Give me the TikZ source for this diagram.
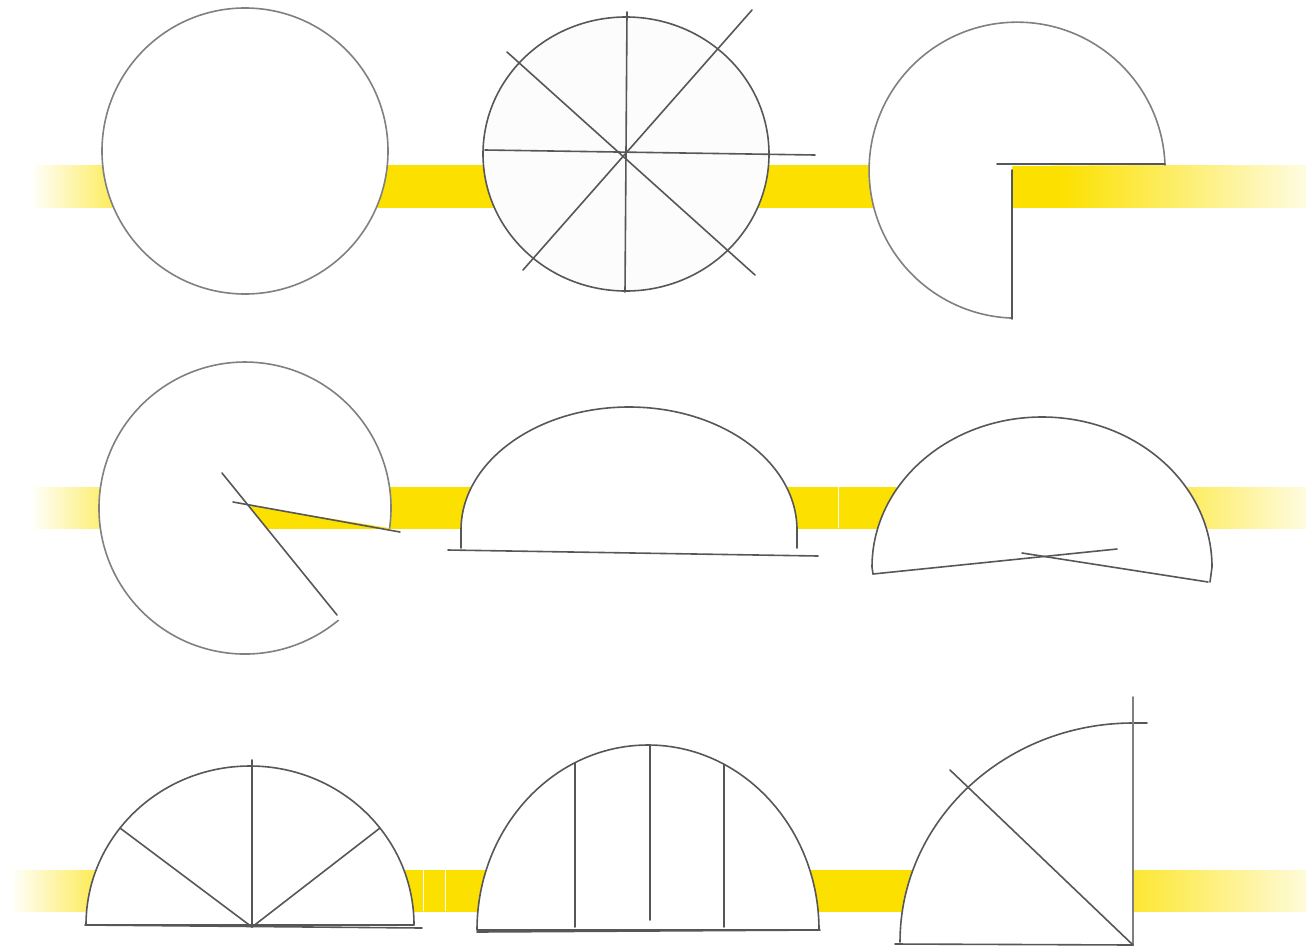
\documentclass[tikz,border=0pt]{standalone}
\definecolor{fy}{RGB}{252,225,0}
\pgfdeclarehorizontalshading{bandA}{100bp}{color(0bp)=(white); color(25bp)=(white); color(30.1bp)=(fy); color(65.4bp)=(fy); color(75bp)=(fy!12); color(100bp)=(fy!12)}
\pgfdeclarehorizontalshading{bandB}{100bp}{color(0bp)=(white); color(25bp)=(white); color(30.1bp)=(fy); color(66.9bp)=(fy); color(75bp)=(fy!12); color(100bp)=(fy!12)}
\pgfdeclarehorizontalshading{bandC}{100bp}{color(0bp)=(white); color(25bp)=(white); color(30.0bp)=(fy); color(66.3bp)=(fy); color(75bp)=(fy!15); color(100bp)=(fy!15)}
\begin{document}
\begin{tikzpicture}[x=1bp,y=-1bp,
  sk/.style={draw=black!66,line width=1.6bp,line cap=round,line join=round},
  skl/.style={sk,draw=black!50},
  gap/.style={draw=white,line width=0.8bp}]
\useasboundingbox (0,0) rectangle (1306,949);
% ---- yellow bands
\shade[shading=bandA] (30,165) rectangle (1306,207);
\shade[shading=bandB] (30,487) rectangle (1306,528);
\shade[shading=bandC] (10,870) rectangle (1306,911);
\draw[gap] (838,487) -- (838,528);
\draw[gap] (423,870) -- (423,911);
\draw[gap] (445,870) -- (445,911);
% ---- row 1
\draw[skl,fill=white] (245,151) circle[radius=143];
\draw[sk,fill=black!1] (626,154) ellipse[x radius=143,y radius=137];
\draw[sk] (627,12) -- (625,292);
\draw[sk] (485,150) -- (815,155);
\draw[sk] (507,52) -- (755,275);
\draw[sk] (752,10) -- (523,270);
\fill[white] (1012,166) -- (1165,165) arc[start angle=-2,end angle=-268,radius=148] -- cycle;
\draw[skl] (1165,165) arc[start angle=-2,end angle=-268,radius=148];
\draw[sk] (997,164) -- (1165,164);
\draw[sk] (1012,170) -- (1012,319);
% ---- row 2
\fill[white] (248,505) -- (389.6,528.1) arc[start angle=7.9,end angle=-309.7,radius=146] -- cycle;
\draw[skl] (389.6,528.1) arc[start angle=7.9,end angle=-309.7,radius=146];
\draw[sk] (233,502) -- (400,532);
\draw[sk] (222,473) -- (337,615);
\fill[white] (797,550) -- (797,530) arc[start angle=0,end angle=-180,x radius=168,y radius=123] -- (461,550) -- cycle;
\draw[sk] (797,548) -- (797,530) arc[start angle=0,end angle=-180,x radius=168,y radius=123] -- (461,548);
\draw[sk] (448,550) -- (818,556);
\fill[white] (1210,582) -- (1212,567) arc[start angle=0,end angle=-180,x radius=170,y radius=150] -- (873,574) -- (1030,556) -- cycle;
\draw[sk] (1210,582) -- (1212,567) arc[start angle=0,end angle=-180,x radius=170,y radius=150] -- (873,574);
\draw[sk] (873,574) -- (1117,549);
\draw[sk] (1022,553) -- (1208,582);
% ---- row 3
\filldraw[sk,fill=white] (414,925) arc[start angle=0,end angle=-180,x radius=164,y radius=159] -- cycle;
\draw[sk] (85,925) -- (422,928);
\draw[sk] (252,927) -- (252,760);
\draw[sk] (252,927) -- (120,828);
\draw[sk] (252,927) -- (380,828);
\filldraw[sk,fill=white] (819,930) arc[start angle=0,end angle=-180,x radius=171,y radius=185] -- cycle;
\draw[sk] (477,932) -- (820,930);
\draw[sk] (575,763) -- (575,927);
\draw[sk] (650,745) -- (650,920);
\draw[sk] (724,765) -- (724,927);
\fill[white] (1133,945) -- (900,942) arc[start angle=180,end angle=270,x radius=233,y radius=219] -- cycle;
\draw[sk] (900,942) arc[start angle=180,end angle=270,x radius=233,y radius=219] -- (1147,723);
\draw[skl] (1133,697) -- (1133,945);
\draw[sk] (895,944) -- (1133,945);
\draw[sk] (950,770) -- (1133,945);
\end{tikzpicture}
\end{document}
